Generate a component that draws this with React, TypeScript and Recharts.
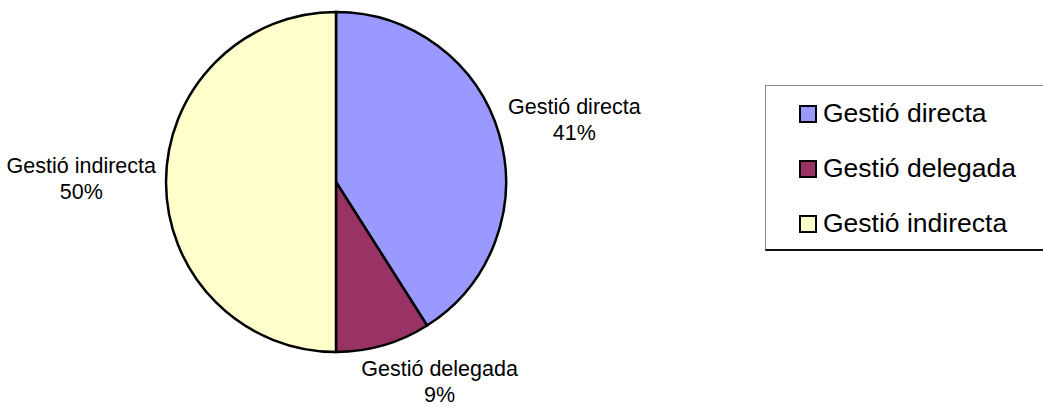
import { PieChart, Pie, Cell, Legend } from "recharts"

const categories = ["Gestió directa", "Gestió delegada", "Gestió indirecta"]
const shares = [41, 9, 50]
const sliceColors = ["#9999FF", "#993366", "#FFFFCC"]

const data = categories.map((name, i) => ({ name, value: shares[i] }))

const FONT = '"Liberation Sans", Arial, sans-serif'
const RADIAN = Math.PI / 180

let measureCtx: CanvasRenderingContext2D | null = null
function textWidth(text: string, size: number) {
  if (!measureCtx) measureCtx = document.createElement("canvas").getContext("2d")
  if (!measureCtx) return text.length * size * 0.5
  measureCtx.font = `${size}px ${FONT}`
  return measureCtx.measureText(text).width
}

function renderLabel(props: any) {
  const { cx, cy, midAngle, outerRadius, index } = props
  const fs = 21.5
  const cos = Math.cos(-midAngle * RADIAN)
  const sin = Math.sin(-midAngle * RADIAN)
  const px = cx + (outerRadius + 10) * cos
  const py = cy + (outerRadius + 10) * sin
  const name = data[index].name
  const w = textWidth(name, fs)
  const bx = px + (w / 2) * Math.sign(cos) * Math.pow(Math.abs(cos), 0.3)
  const by = py + 31 * sin
  return (
    <text x={bx} y={by - 9} textAnchor="middle" fontFamily={FONT} fontSize={fs} fill="#000">
      <tspan x={bx}>{name}</tspan>
      <tspan x={bx} dy={26}>{`${data[index].value}%`}</tspan>
    </text>
  )
}

function LegendBox() {
  return (
    <div
      style={{
        width: 290,
        height: 166,
        borderTop: "1px solid #888",
        borderLeft: "1px solid #888",
        borderBottom: "2px solid #111",
        background: "#fff",
        boxSizing: "border-box",
        fontFamily: FONT,
        fontSize: 26.5,
        color: "#000",
      }}
    >
      {data.map((d, i) => (
        <div key={d.name} style={{ display: "flex", alignItems: "center", height: 55, paddingLeft: 33 }}>
          <span
            style={{
              display: "inline-block",
              width: 14,
              height: 14,
              background: sliceColors[i],
              border: "2px solid #000",
              marginRight: 6,
            }}
          />
          <span style={{ lineHeight: "55px" }}>{d.name}</span>
        </div>
      ))}
    </div>
  )
}

export default function App() {
  return (
    <div style={{ position: "absolute", left: 0, top: 0, width: 1043, height: 407, background: "#fff" }}>
      <PieChart width={1043} height={407} margin={{ top: 0, right: 0, bottom: 0, left: 0 }}>
        <Pie
          data={data}
          dataKey="value"
          nameKey="name"
          cx={336}
          cy={182}
          outerRadius={170}
          startAngle={90}
          endAngle={-270}
          stroke="#000"
          strokeWidth={2.5}
          label={renderLabel}
          labelLine={false}
          isAnimationActive={false}
        >
          {data.map((d, i) => (
            <Cell key={d.name} fill={sliceColors[i]} />
          ))}
        </Pie>
        <Legend content={<LegendBox />} wrapperStyle={{ position: "absolute", left: 765, top: 85, width: 290 }} />
      </PieChart>
    </div>
  )
}
